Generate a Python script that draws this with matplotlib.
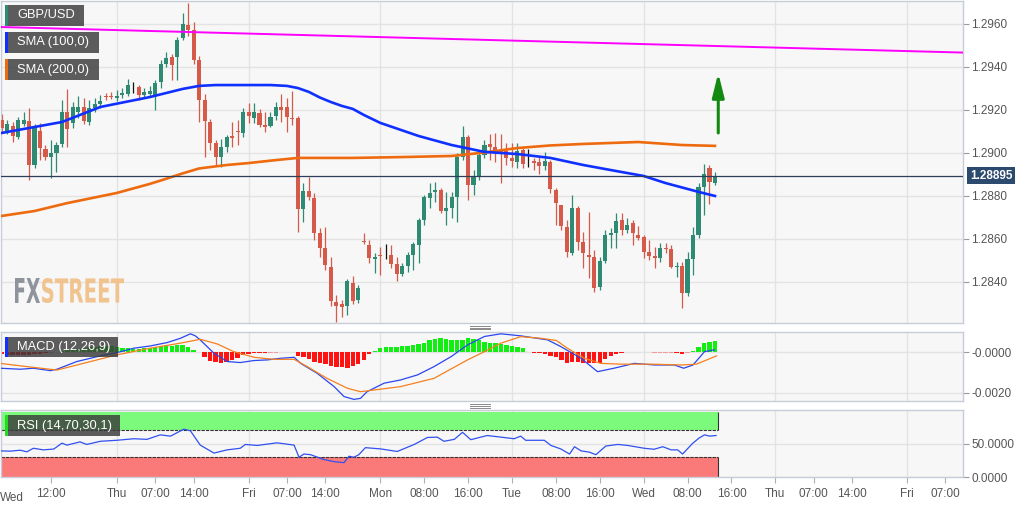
import matplotlib
matplotlib.use("Agg")
import matplotlib.pyplot as plt
from matplotlib.patches import Rectangle, PathPatch
from matplotlib.lines import Line2D
from matplotlib.textpath import TextPath
from matplotlib.font_manager import FontProperties
from matplotlib.transforms import Affine2D, IdentityTransform, blended_transform_factory
import numpy as np

plt.rcParams['font.family'] = ['Liberation Sans', 'DejaVu Sans']

# hourly bars, index 0 = Wed 00:00 (weekend hours skipped)
first_bar = 3
opens = [1.29153, 1.29102, 1.29126, 1.29074, 1.29135, 1.29149, 1.28944, 1.29102, 1.29019, 1.28981,
         1.29000, 1.29042, 1.29191, 1.29140, 1.29191, 1.29214, 1.29144, 1.29209, 1.29228, 1.29265,
         1.29265, 1.29256, 1.29270, 1.29274, 1.29302, 1.29307, 1.29270, 1.29274, 1.29270, 1.29330,
         1.29414, 1.29447, 1.29447, 1.29535, 1.29595, 1.29572, 1.29433, 1.29246, 1.29144, 1.29046,
         1.28981, 1.29028, 1.29079, 1.29102, 1.29093, 1.29191, 1.29163, 1.29186, 1.29130, 1.29126,
         1.29172, 1.29214, 1.29214, 1.29163, 1.29163, 1.28739, 1.28823, 1.28791, 1.28628, 1.28558,
         1.28470, 1.28307, 1.28298, 1.28288, 1.28395, 1.28316, 1.28591, 1.28572, 1.28507, 1.28526,
         1.28526, 1.28526, 1.28484, 1.28437, 1.28474, 1.28526, 1.28572, 1.28688, 1.28791, 1.28819,
         1.28828, 1.28730, 1.28744, 1.28795, 1.28981, 1.29074, 1.28851, 1.28888, 1.28991, 1.29042,
         1.29028, 1.29009, 1.29009, 1.28977, 1.28958, 1.29014, 1.28953, 1.28963, 1.28958, 1.28940,
         1.28958, 1.28828, 1.28758, 1.28656, 1.28535, 1.28744, 1.28586, 1.28526, 1.28516, 1.28377,
         1.28498, 1.28619, 1.28628, 1.28688, 1.28642, 1.28674, 1.28619, 1.28609, 1.28540, 1.28521,
         1.28512, 1.28558, 1.28553, 1.28470, 1.28474, 1.28349, 1.28507, 1.28619, 1.28842, 1.28930,
         1.28860]
highs = [1.29181, 1.29153, 1.29144, 1.29167, 1.29191, 1.29209, 1.29135, 1.29140, 1.29037, 1.29060,
         1.29051, 1.29246, 1.29298, 1.29237, 1.29265, 1.29256, 1.29246, 1.29256, 1.29270, 1.29279,
         1.29284, 1.29293, 1.29302, 1.29344, 1.29330, 1.29316, 1.29302, 1.29312, 1.29340, 1.29433,
         1.29470, 1.29460, 1.29540, 1.29651, 1.29698, 1.29609, 1.29451, 1.29274, 1.29158, 1.29060,
         1.29065, 1.29084, 1.29144, 1.29153, 1.29209, 1.29233, 1.29233, 1.29205, 1.29191, 1.29191,
         1.29237, 1.29274, 1.29256, 1.29288, 1.29172, 1.28860, 1.28888, 1.28814, 1.28651, 1.28656,
         1.28516, 1.28340, 1.28316, 1.28414, 1.28428, 1.28386, 1.28628, 1.28595, 1.28535, 1.28563,
         1.28577, 1.28572, 1.28516, 1.28488, 1.28540, 1.28586, 1.28698, 1.28805, 1.28860, 1.28865,
         1.28837, 1.28819, 1.28819, 1.29000, 1.29126, 1.29084, 1.28921, 1.29000, 1.29060, 1.29088,
         1.29093, 1.29088, 1.29046, 1.29046, 1.29046, 1.29023, 1.29019, 1.28977, 1.28981, 1.29005,
         1.28967, 1.28837, 1.28758, 1.28688, 1.28805, 1.28753, 1.28633, 1.28726, 1.28549, 1.28516,
         1.28642, 1.28651, 1.28721, 1.28721, 1.28698, 1.28688, 1.28660, 1.28619, 1.28595, 1.28563,
         1.28581, 1.28581, 1.28572, 1.28493, 1.28493, 1.28540, 1.28656, 1.28860, 1.28949, 1.28944,
         1.28912]
lows = [1.29098, 1.29088, 1.29051, 1.29065, 1.29126, 1.28874, 1.28930, 1.28967, 1.28967, 1.28884,
        1.28912, 1.29028, 1.29028, 1.29116, 1.29163, 1.29135, 1.29130, 1.29191, 1.29209, 1.29246,
        1.29251, 1.29242, 1.29256, 1.29265, 1.29279, 1.29246, 1.29260, 1.29265, 1.29200, 1.29302,
        1.29400, 1.29340, 1.29340, 1.29526, 1.29544, 1.29414, 1.29144, 1.28981, 1.29014, 1.28940,
        1.28935, 1.29005, 1.29028, 1.29037, 1.29074, 1.29140, 1.29140, 1.29121, 1.29098, 1.29121,
        1.29153, 1.29144, 1.29098, 1.29130, 1.28633, 1.28679, 1.28781, 1.28595, 1.28516, 1.28456,
        1.28288, 1.28214, 1.28237, 1.28246, 1.28298, 1.28302, 1.28577, 1.28488, 1.28442, 1.28433,
        1.28507, 1.28465, 1.28405, 1.28428, 1.28446, 1.28456, 1.28488, 1.28665, 1.28744, 1.28772,
        1.28721, 1.28665, 1.28698, 1.28679, 1.28967, 1.28781, 1.28805, 1.28874, 1.28977, 1.28967,
        1.28958, 1.28860, 1.28944, 1.28935, 1.28930, 1.28930, 1.28935, 1.28921, 1.28902, 1.28921,
        1.28814, 1.28665, 1.28642, 1.28516, 1.28526, 1.28549, 1.28465, 1.28419, 1.28353, 1.28363,
        1.28488, 1.28558, 1.28558, 1.28619, 1.28628, 1.28572, 1.28595, 1.28512, 1.28502, 1.28465,
        1.28493, 1.28535, 1.28465, 1.28423, 1.28279, 1.28335, 1.28433, 1.28605, 1.28712, 1.28763,
        1.28851]
closes = [1.29116, 1.29135, 1.29079, 1.29153, 1.29153, 1.28944, 1.29121, 1.29023, 1.28981, 1.29000,
          1.29037, 1.29191, 1.29112, 1.29214, 1.29214, 1.29149, 1.29209, 1.29228, 1.29242, 1.29260,
          1.29260, 1.29265, 1.29279, 1.29316, 1.29302, 1.29270, 1.29284, 1.29288, 1.29326, 1.29414,
          1.29442, 1.29409, 1.29526, 1.29600, 1.29572, 1.29433, 1.29246, 1.29149, 1.29046, 1.28981,
          1.29028, 1.29074, 1.29070, 1.29098, 1.29191, 1.29172, 1.29191, 1.29130, 1.29121, 1.29167,
          1.29214, 1.29200, 1.29167, 1.29158, 1.28739, 1.28823, 1.28795, 1.28628, 1.28558, 1.28479,
          1.28312, 1.28288, 1.28284, 1.28405, 1.28312, 1.28372, 1.28586, 1.28512, 1.28516, 1.28521,
          1.28526, 1.28484, 1.28437, 1.28474, 1.28526, 1.28577, 1.28688, 1.28795, 1.28814, 1.28828,
          1.28730, 1.28744, 1.28795, 1.28981, 1.29074, 1.28851, 1.28888, 1.28991, 1.29037, 1.29028,
          1.29000, 1.29000, 1.28977, 1.28963, 1.29009, 1.28949, 1.28953, 1.28953, 1.28940, 1.28963,
          1.28833, 1.28767, 1.28660, 1.28540, 1.28744, 1.28586, 1.28535, 1.28516, 1.28372, 1.28498,
          1.28619, 1.28628, 1.28684, 1.28642, 1.28665, 1.28628, 1.28605, 1.28540, 1.28521, 1.28512,
          1.28558, 1.28553, 1.28470, 1.28474, 1.28349, 1.28507, 1.28619, 1.28842, 1.28902, 1.28865,
          1.28895]
last_price = 1.28895

sma100_idx = [3, 14, 21, 30, 36, 39, 42, 48, 52, 55, 57, 59, 61, 63, 65, 67, 69, 72, 79, 85, 91, 97, 103,
              109, 115, 120, 124, 130, 133]
sma100 = [1.29093, 1.29144, 1.29214, 1.29260, 1.29298, 1.29312, 1.29316, 1.29316, 1.29316, 1.29312, 1.29302,
          1.29284, 1.29258, 1.29237, 1.29219, 1.29205, 1.29177, 1.29140, 1.29079, 1.29037, 1.29005, 1.28995,
          1.28977, 1.28944, 1.28916, 1.28893, 1.28860, 1.28819, 1.28800]
sma200_idx = [3, 9, 15, 24, 30, 33, 36, 39, 44, 48, 53, 57, 67, 76, 85, 91, 97, 103, 109, 119, 127, 133]
sma200 = [1.28707, 1.28730, 1.28767, 1.28814, 1.28856, 1.28880, 1.28905, 1.28928, 1.28944, 1.28953, 1.28967,
          1.28977, 1.28977, 1.28981, 1.28986, 1.29002, 1.29023, 1.29035, 1.29042, 1.29051, 1.29037, 1.29033]

trend_idx = [2.8, 178.3]
trend_price = [1.29586, 1.29467]
arrow_from, arrow_to = 1.29093, 1.29372

macd_hist = [-0.00010, -0.00012, -0.00013, -0.00013, -0.00012, -0.00012, -0.00010, -0.00008, -0.00006, -0.00003,
             0.00002, 0.00006, 0.00010, 0.00014, 0.00018, 0.00022, 0.00025, 0.00027,
             0.00030, 0.00031, 0.00030, 0.00028,
             0.00022, 0.00020, 0.00018, 0.00018, 0.00020, 0.00023,
             0.00026, 0.00029, 0.00031, 0.00033, 0.00035, 0.00036,
             0.00028, 0.00012, 0.00003,
             -0.00025, -0.00042, -0.00050, -0.00051, -0.00048, -0.00040, -0.00028, -0.00016, -0.00009, -0.00006,
             -0.00005, -0.00005, -0.00004, -0.00002,
             0.00003, 0.00003, 0.00002,
             -0.00021, -0.00025, -0.00035, -0.00046, -0.00054, -0.00059, -0.00066, -0.00071, -0.00074, -0.00076,
             -0.00068, -0.00059, -0.00038, -0.00010,
             0.00008, 0.00020, 0.00025, 0.00028, 0.00028, 0.00031, 0.00033, 0.00036, 0.00040, 0.00045,
             0.00058, 0.00064, 0.00069, 0.00064, 0.00061, 0.00058, 0.00061, 0.00068, 0.00064, 0.00058,
             0.00053, 0.00048, 0.00045, 0.00041, 0.00036, 0.00031, 0.00025, 0.00020,
             0.00003,
             -0.00005, -0.00005, -0.00008, -0.00018, -0.00025, -0.00038, -0.00051, -0.00046, -0.00046, -0.00051,
             -0.00051, -0.00054, -0.00051, -0.00035, -0.00021, -0.00010, -0.00005,
             0.00003, 0.00003, 0.00002, 0.00002, 0.00001,
             -0.00003, -0.00002, -0.00004, -0.00003, -0.00005, -0.00010, -0.00003,
             0.00007, 0.00028, 0.00048, 0.00053, 0.00056]

macd_idx = [2.7, 6.4, 8.8, 11.9, 13.1, 16.7, 21.0, 24.0, 27.1, 30.1, 33.2, 35.6, 37.4, 38.3, 39.2, 41.7, 44.1,
            46.5, 49.0, 51.4, 53.8, 56.3, 57.5, 60.5, 63.6, 65.4, 67.2, 68.4, 69.6, 72.7, 75.7, 78.8, 81.8, 84.9,
            87.9, 91.0, 94.0, 97.6, 102.5, 104.9, 108.6, 111.6, 114.6, 118.3, 122.0, 125.6, 127.3, 129.0, 131.1, 132.9]
macd_line = [-0.00079, -0.00084, -0.00079, -0.00091, -0.00084, -0.00046, -0.00018, -0.00002, 0.00020, 0.00031,
             0.00048, 0.00069, 0.00091, 0.00081, 0.00061, -0.00005, -0.00046, -0.00051, -0.00041, -0.00038,
             -0.00030, -0.00025, -0.00055, -0.00104, -0.00170, -0.00219, -0.00233, -0.00228, -0.00195, -0.00153,
             -0.00137, -0.00112, -0.00071, -0.00022, 0.00036, 0.00078, 0.00091, 0.00081, 0.00061, 0.00028,
             -0.00030, -0.00096, -0.00079, -0.00055, -0.00063, -0.00063, -0.00079, -0.00063, 0.00003, 0.00012]
signal_idx = [2.7, 7.6, 13.1, 17.9, 24.0, 30.1, 35.6, 39.2, 42.3, 45.3, 49.0, 52.6, 56.3, 58.7, 62.3, 66.0, 68.4,
              69.6, 75.7, 81.8, 87.9, 91.0, 94.0, 97.6, 101.3, 104.1, 106.1, 109.2, 112.2, 115.9, 121.4, 126.9,
              129.6, 133.3]
signal_line = [-0.00055, -0.00071, -0.00088, -0.00055, -0.00013, 0.00020, 0.00045, 0.00064, 0.00041, 0.00003,
               -0.00025, -0.00035, -0.00035, -0.00071, -0.00129, -0.00178, -0.00195, -0.00191, -0.00170, -0.00129,
               -0.00038, 0.00003, 0.00045, 0.00077, 0.00069, 0.00058, 0.00020, -0.00030, -0.00055, -0.00059,
               -0.00059, -0.00063, -0.00059, -0.00018]

rsi_idx = [2.7, 4.6, 6.4, 7.6, 8.8, 10.6, 12.5, 14.0, 14.9, 17.3, 18.5, 21.0, 24.0, 27.1, 29.5, 31.9, 33.8, 36.2,
           37.4, 39.2, 41.7, 44.1, 46.5, 47.4, 49.6, 53.2, 56.3, 57.2, 58.1, 59.3, 61.7, 63.6, 65.4, 66.3, 67.2,
           68.1, 69.3, 72.1, 75.1, 78.2, 80.6, 82.4, 83.6, 85.5, 87.0, 88.5, 91.5, 94.0, 96.4, 97.6, 98.5, 101.9,
           103.1, 104.9, 106.5, 107.4, 108.6, 110.1, 111.3, 113.1, 115.3, 117.1, 120.1, 121.9, 123.5, 125.0,
           126.2, 127.1, 128.9, 130.1, 131.1, 132.0, 133.2]
rsi = [39.0, 38.6, 40.0, 37.6, 42.9, 40.5, 41.7, 50.5, 47.6, 52.4, 48.6, 53.3, 54.8, 57.1, 56.2, 62.9, 61.0, 71.4,
       69.0, 47.6, 35.7, 40.5, 42.9, 48.6, 47.1, 51.0, 47.6, 29.5, 34.3, 33.3, 26.2, 22.9, 21.4, 31.0, 29.5,
       33.3, 43.8, 41.9, 38.1, 48.6, 59.0, 59.5, 53.3, 56.2, 66.7, 55.7, 61.9, 59.5, 57.1, 61.0, 54.8, 54.8,
       47.1, 41.9, 34.3, 45.2, 39.0, 37.1, 33.3, 46.2, 48.6, 47.1, 42.9, 41.4, 45.2, 40.5, 40.5, 34.3, 50.0,
       58.1, 62.9, 61.0, 61.9]

tick_pos = [12, 24, 31, 38, 48, 55, 62, 72, 80, 88, 96, 104, 112, 120, 128, 136, 144, 151, 158, 168, 175]
tick_lab = ['12:00', 'Thu', '07:00', '14:00', 'Fri', '07:00', '14:00', 'Mon', '08:00', '16:00', 'Tue',
            '08:00', '16:00', 'Wed', '08:00', '16:00', 'Thu', '07:00', '14:00', 'Fri', '07:00']
day_starts = [24, 48, 72, 96, 120, 144, 168]

W, H = 1032, 505
fig = plt.figure(figsize=(W / 100, H / 100), dpi=100)
fig.patch.set_facecolor('white')


def px_axes(x0, y0, x1, y1):
    return fig.add_axes([x0 / W, 1 - y1 / H, (x1 - x0) / W, (y1 - y0) / H])


ax = px_axes(0.5, 1, 963, 323)
axm = px_axes(0.5, 332, 963, 401)
axr = px_axes(0.5, 410, 963, 477)

xmin, xmax = 2.8, 178.2
for a in (ax, axm, axr):
    a.set_facecolor('#f7f7f7')
    for s in a.spines.values():
        s.set_color('#c8ccd8')
        s.set_linewidth(1)
    a.set_xlim(xmin, xmax)
    a.yaxis.tick_right()
    a.tick_params(axis='y', colors='#9a9a9a', labelcolor='#555555', labelsize=8.5, length=4, width=0.8, pad=2)
    for d in day_starts:
        a.axvline(d, color='#e3e3e3', lw=1, zorder=0)
    a.set_axisbelow(True)
for a in (ax, axm):
    a.tick_params(axis='x', bottom=False, labelbottom=False)

# ---- price panel
ax.set_ylim(1.28209, 1.29707)
yt = [1.2840, 1.2860, 1.2880, 1.2900, 1.2920, 1.2940, 1.2960]
ax.set_yticks(yt, ['%.4f' % v for v in yt])
ax.yaxis.grid(True, color='#e3e3e3', lw=1)

idx = np.arange(first_bar, first_bar + len(closes))
o = np.array(opens)
c = np.array(closes)
hi = np.array(highs)
lo = np.array(lows)
cols = np.where(c > o, '#2f8a73', np.where(c < o, '#d65a4a', '#111111'))
ax.vlines(idx, lo, hi, colors=cols, lw=0.9, zorder=2)
ax.bar(idx, np.maximum(np.abs(c - o), 0.000015), bottom=np.minimum(o, c), width=0.74,
       color=cols, lw=0, zorder=3)

ax.plot(trend_idx, trend_price, color='#ff00ff', lw=1.4, zorder=4)
ax.plot(sma200_idx, sma200, color='#ee6a0e', lw=1.9, zorder=4, solid_joinstyle='round')
ax.plot(sma100_idx, sma100, color='#1030ff', lw=1.9, zorder=5, solid_joinstyle='round')
ax.axhline(last_price, color='#2c3e5c', lw=0.9, zorder=6)
ax.annotate('', xy=(133.6, arrow_to), xytext=(133.6, arrow_from),
            arrowprops=dict(arrowstyle='-|>,head_length=1.2,head_width=0.3', color='#128a12',
                            lw=2.2, mutation_scale=12, shrinkA=0, shrinkB=0), zorder=7)
ax.annotate('1.28895', xy=(1.0, last_price), xycoords=blended_transform_factory(ax.transAxes, ax.transData),
            xytext=(5, 0), textcoords='offset points', ha='left', va='center', color='white',
            fontsize=8.5, fontweight='bold', annotation_clip=False,
            bbox=dict(boxstyle='square,pad=0.25', fc='#2c4a6e', ec='none'))

# FXSTREET watermark
fp = FontProperties(family='DejaVu Sans', weight='bold')
for word, x0, x1, colr in [('FX', 15, 40, '#8f939b'), ('STREET', 42, 124, '#f1c38e')]:
    tp = TextPath((0, 0), word, size=40, prop=fp)
    ext = tp.get_extents()
    tr = (Affine2D().translate(-ext.x0, -ext.y0)
          .scale((x1 - x0) / ext.width, 25 / ext.height).translate(x0, H - 303))
    ax.add_patch(PathPatch(tr.transform_path(tp), transform=IdentityTransform(), fc=colr, ec='none', zorder=1))

# ---- MACD panel
axm.set_ylim(-0.00241, 0.001)
axm.set_yticks([0, -0.002], ['-0.0000', '-0.0020'])
axm.yaxis.grid(True, color='#e3e3e3', lw=1)
h = np.array(macd_hist)
hcol = np.where(h >= 0, np.where(h < 0.00005, '#9ff59f', '#11ee11'),
                np.where(h > -0.00005, '#f59a9a', '#ff1212'))
axm.bar(idx, h, width=0.8, color=hcol, lw=0, zorder=2)
axm.plot(macd_idx, macd_line, color='#2a46f0', lw=0.9, zorder=3)
axm.plot(signal_idx, signal_line, color='#f5801e', lw=0.9, zorder=3)

# ---- RSI panel
axr.set_ylim(0, 100)
axr.set_yticks([50, 0], ['50.0000', '0.0000'])
axr.yaxis.grid(True, color='#e3e3e3', lw=1)
zone_end = 133.6
axr.fill_between([xmin, zone_end], 70, 97, color='#7cfa7c', lw=0, zorder=1)
axr.fill_between([xmin, zone_end], 0, 30, color='#fa7a7a', lw=0, zorder=1)
axr.hlines([70, 30], xmin, zone_end, colors='#333333', lw=0.8, linestyles=(0, (3, 1)), zorder=2)
axr.vlines(zone_end, 70, 97, colors='#333333', lw=0.8, zorder=2)
axr.vlines(zone_end, 0, 30, colors='#333333', lw=0.8, zorder=2)
axr.plot(rsi_idx, rsi, color='#3050f0', lw=0.9, zorder=3)

axr.set_xticks(tick_pos, tick_lab)
axr.tick_params(axis='x', colors='#b0b0b0', labelcolor='#555555', labelsize=8.5, length=4, width=0.8, pad=4)
axr.annotate('Wed', xy=(4.8, 0), xycoords=('data', 'axes fraction'), xytext=(0, -15),
             textcoords='offset points', ha='center', va='center', fontsize=8.5, color='#555555',
             annotation_clip=False)


# ---- legend tags and panel handles (figure pixel coordinates)
def tag(x0, y0, x1, y1, stripe, text):
    fig.add_artist(Rectangle((x0 / W, 1 - y1 / H), (x1 - x0) / W, (y1 - y0) / H, transform=fig.transFigure,
                             fc='#3a3a3a', ec='none', alpha=0.82, zorder=10))
    fig.add_artist(Rectangle((x0 / W, 1 - y1 / H), 2.5 / W, (y1 - y0) / H, transform=fig.transFigure,
                             fc=stripe, ec='none', zorder=11))
    fig.text((x0 + 12) / W, 1 - (y0 + y1) / 2 / H, text, color='white', fontsize=9.3,
             ha='left', va='center', zorder=12)


tag(5, 5, 84, 26, '#2f8a73', 'GBP/USD')
tag(5, 32, 99, 53, '#1030ff', 'SMA (100,0)')
tag(5, 59, 99, 80, '#ee6a0e', 'SMA (200,0)')
tag(5, 337, 118, 357, '#1030ff', 'MACD (12,26,9)')
tag(5, 415, 120, 436, '#22dd22', 'RSI (14,70,30,1)')

for yc in (327.5, 406.0):
    for dy in (-1.7, 0, 1.7):
        fig.add_artist(Line2D([470 / W, 490 / W], [1 - (yc + dy) / H] * 2, transform=fig.transFigure,
                              color='#8a8a8a', lw=0.7))

fig.savefig('out.png', dpi=100)
